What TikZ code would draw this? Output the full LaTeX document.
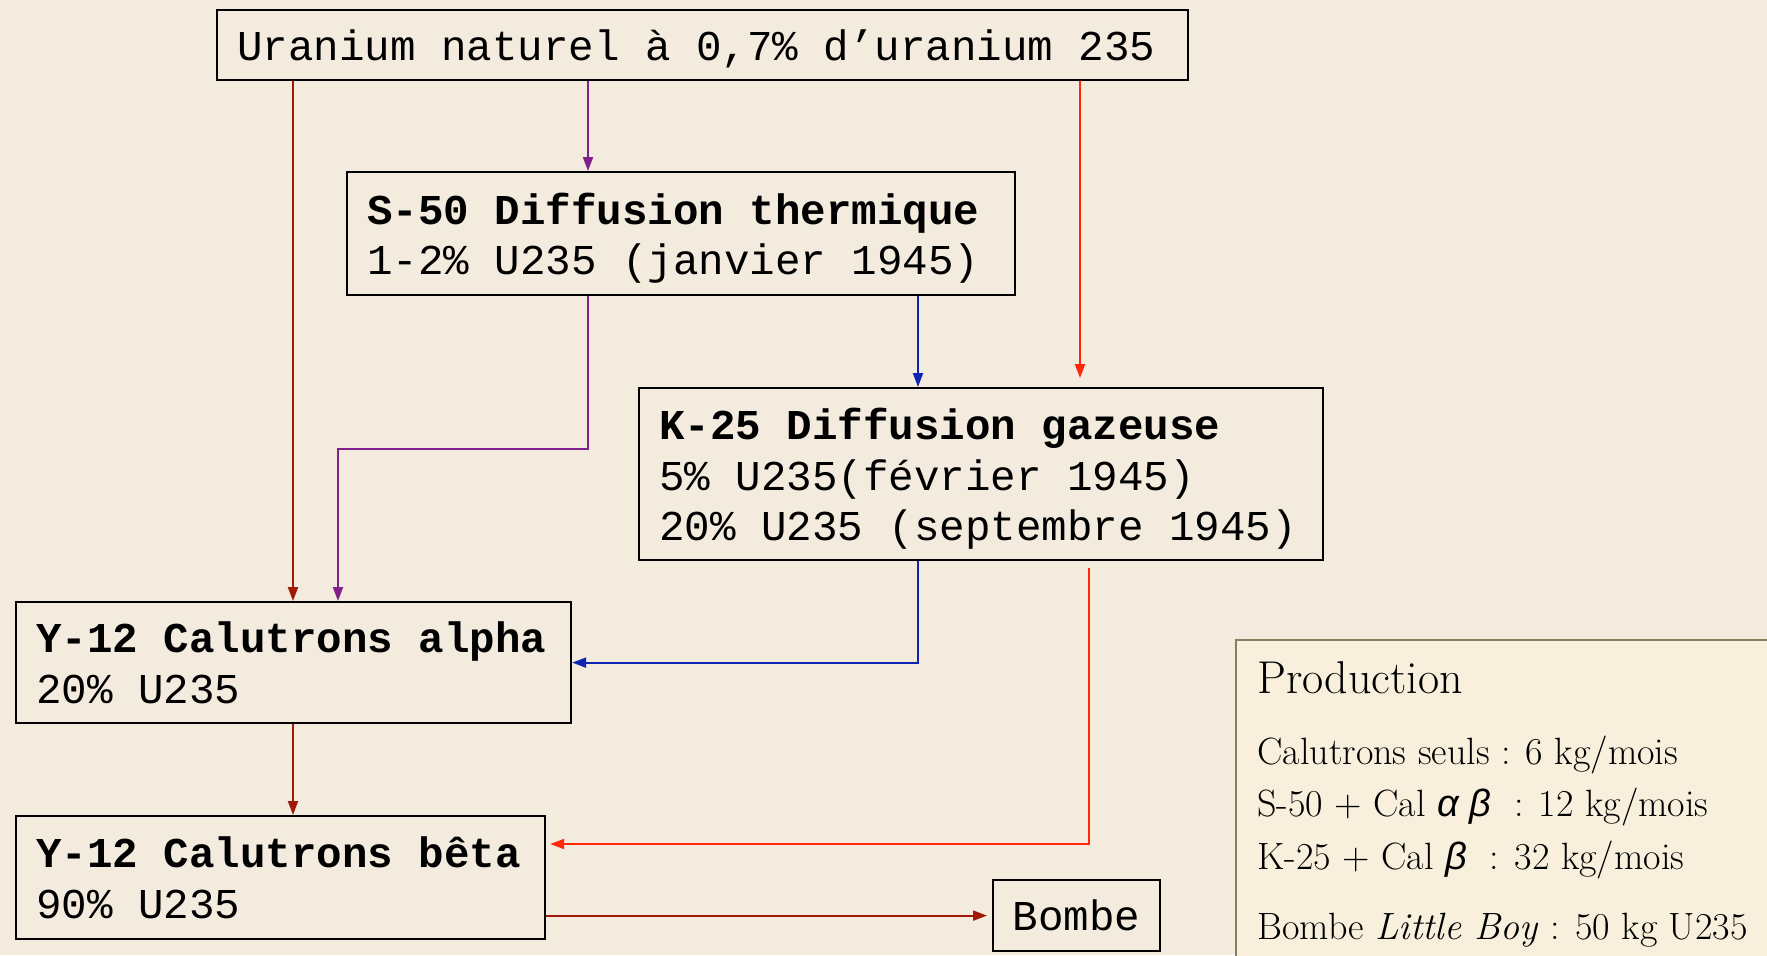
\documentclass[tikz,border=0pt]{standalone}
\usepackage{fontspec}
\usepackage{amssymb}
\usetikzlibrary{arrows.meta}
\newfontfamily\monofont{Liberation Mono}
\newfontfamily\greeksans{Liberation Sans}
\definecolor{parchment}{RGB}{242,235,222}
\definecolor{prodfill}{RGB}{248,240,221}
\definecolor{prodline}{RGB}{135,125,95}
\definecolor{flowdark}{RGB}{160,24,6}
\definecolor{flowpurple}{RGB}{128,32,140}
\definecolor{flowred}{RGB}{255,40,10}
\definecolor{flowblue}{RGB}{16,36,180}
\tikzset{
  flowbox/.style={draw=black,line width=1.1pt,inner xsep=10pt,inner ysep=0pt,align=flush left,anchor=north west,
    font=\monofont\fontsize{21.25}{25.4}\selectfont,execute at end node={\vphantom{(}\par\kern-4.6pt}},
  bombebox/.style={draw=black,line width=1.1pt,inner sep=0pt,anchor=north west,
    font=\monofont\fontsize{21.25}{25.4}\selectfont},
  flow/.style={line width=1pt,-{Triangle[length=7pt,width=5pt]}},
  prodtext/.style={anchor=base west,inner sep=0pt,font=\fontsize{19}{23}\selectfont}
}
\begin{document}
\begin{tikzpicture}[x=0.5pt,y=-0.5pt]
      \clip (0,0) rectangle (1767,955);
      \fill[parchment] (0,0) rectangle (1767,955);
      \node[flowbox,text width=465.5pt,minimum height=35pt] (uran) at (216,9) {Uranium naturel à 0,7\% d’uranium 235};
      \node[flowbox,text width=314pt,minimum height=61.5pt] (sfifty) at (346,171) {\textbf{S-50 Diffusion thermique}\\1-2\% U235 (janvier 1945)};
      \node[flowbox,text width=322pt,minimum height=86pt] (kgas) at (638,387) {\textbf{K-25 Diffusion gazeuse}\\5\% U235(février 1945)\\20\% U235 (septembre 1945)};
      \node[flowbox,text width=257.5pt,minimum height=60.5pt] (alpha) at (15,601) {\textbf{Y-12 Calutrons alpha}\\20\% U235};
      \node[flowbox,text width=244.5pt,minimum height=61.5pt] (beta) at (15,815) {\textbf{Y-12 Calutrons bêta}\\90\% U235};
      \node[bombebox,minimum width=83.5pt,minimum height=35.5pt] (bombe) at (992,879) {\raisebox{-2pt}{Bombe}};
      \coordinate (xA) at (293,0);
      \coordinate (xP) at (588,0);
      \coordinate (xQ) at (338,0);
      \coordinate (xB) at (918,0);
      \coordinate (xR) at (1080,0);
      \coordinate (xS) at (1089,0);
      \coordinate (yP) at (0,449);
      \coordinate (yS) at (0,844);
      \draw[flow,flowdark] (uran.south -| xA) to (alpha.north -| xA);
      \draw[flow,flowdark] (alpha.south -| xA) to (beta.north -| xA);
      \draw[flow,flowpurple] (uran.south -| xP) to (sfifty.north -| xP);
      \draw[flow,flowpurple] (sfifty.south -| xP) -- (xP |- yP) -- (xQ |- yP) -- (alpha.north -| xQ);
      \draw[flow,flowblue] (sfifty.south -| xB) to (kgas.north -| xB);
      \draw[flow,flowblue] (kgas.south -| xB) |- (alpha.east);
      \draw[flow,flowred,shorten >=4.5pt] (uran.south -| xR) to (kgas.north -| xR);
      \draw[flow,flowred,shorten <=3.5pt,shorten >=2pt] (kgas.south -| xS) |- (beta.east |- yS);
      \draw[flow,flowdark,shorten >=2.5pt] (beta.east |- bombe.west) to (bombe.west);
      \draw[line width=1.2pt,draw=prodline,fill=prodfill] (1236,640) rectangle (1800,1000);
      \node[prodtext,font=\fontsize{23}{27}\selectfont] (ptitle) at (1257,693) {Production};
      \node[prodtext] (pcal) at (1257,764) {Calutrons seuls : 6 kg/mois};
      \node[prodtext] (psfifty) at (1257,816) {S-50 + Cal {\greeksans\itshape α β}\ \ : 12 kg/mois};
      \node[prodtext] (pkgas) at (1257,869) {K-25 + Cal {\greeksans\itshape β}\ \ : 32 kg/mois};
      \node[prodtext] (pbombe) at (1257,939) {Bombe \textit{Little Boy} : 50 kg U235};
\end{tikzpicture}
\end{document}
